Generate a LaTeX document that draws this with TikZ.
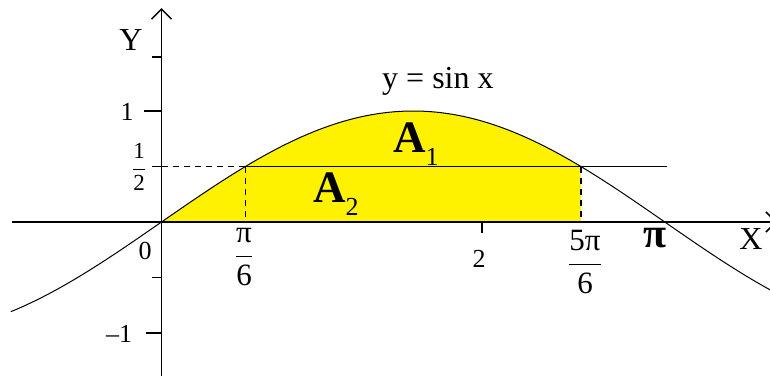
\documentclass[tikz,border=0pt]{standalone}
\RequirePackage{fix-cm}
\usepackage{fontspec}
\setmainfont{Liberation Serif}
\usetikzlibrary{arrows.meta}
\begin{document}
\begin{tikzpicture}[x=1pt,y=-1pt,
  axis/.style={line width=1.5pt,black},
  tickmark/.style={line width=1.5pt,black},
  curve/.style={line width=1pt,black},
  guide/.style={line width=1.5pt,black,dash pattern=on 6pt off 5pt},
  half/.style={line width=1.4pt,black},
  lbl/.style={inner sep=0pt,font=\fontsize{26}{30}\selectfont},
  axlbl/.style={inner sep=0pt,font=\fontsize{32}{36}\selectfont},
  frc/.style={inner sep=0pt,font=\fontsize{31}{36}\selectfont},
  frcs/.style={inner sep=0pt,font=\fontsize{23}{27}\selectfont},
  arealbl/.style={inner sep=0pt,anchor=base west,font=\fontsize{45}{50}\selectfont\bfseries},
  barb/.tip={Straight Barb[length=10pt,width=20pt,line width=1.5pt]}]
\useasboundingbox (0,0) rectangle (770,376);
\fill[white] (0,0) rectangle (770,376);
% filled region
\begin{scope}[shift={(161.5,222)},x=160.2pt,y=111pt]
  \fill[yellow] (0,0) -- plot[domain=0:{5*pi/6},samples=120] (\x,{sin(\x r)}) -- ({5*pi/6},0) -- cycle;
\end{scope}
% guide lines
\coordinate (hy) at (161.5,166.5);
\coordinate (p1) at (245.4,166.5);
\coordinate (p1b) at (245.4,222);
\coordinate (p5) at (580.9,166.5);
\coordinate (p5b) at (580.9,222);
\coordinate (hend) at (667,166.5);
\draw[guide] (hy) -- (p1);
\draw[guide] (p1) -- (p1b);
\draw[guide] (p5) -- (p5b);
\draw[half] (p1) -- (hend);
% axes
\coordinate (xs) at (12,222);
\coordinate (xe) at (777,222);
\coordinate (ys) at (161.5,376);
\coordinate (ye) at (161.5,8);
\draw[axis,-barb] (xs) -- (xe);
\draw[axis,-barb] (ys) -- (ye);
% ticks
\draw[tickmark] (152,57) -- (161.5,57);
\draw[tickmark] (144,111) -- (161.5,111);
\draw[tickmark] (152,166.5) -- (161.5,166.5);
\draw[tickmark] (152,277.5) -- (161.5,277.5);
\draw[tickmark] (146,333) -- (161.5,333);
\draw[tickmark] (482,222) -- (482,233);
% curve
\begin{scope}[shift={(161.5,222)},x=160.2pt,y=111pt]
  \draw[curve] plot[domain=-0.94:3.81,samples=200] (\x,{sin(\x r)});
\end{scope}
% labels
\node[axlbl] (ylab) at (131,40) {Y};
\node[axlbl] (xlab) at (751,239) {X};
\node[lbl] (zero) at (145,251) {0};
\node[lbl] (one) at (127,111.5) {1};
\node[lbl] (mone) at (119,334) {–1};
\node[lbl] (two) at (479,258.5) {2};
\node[frcs] (halflbl) at (139,167) {$\displaystyle\frac{\mbox{1}}{\mbox{2}}$};
\node[frc] (pisix) at (244,257) {$\displaystyle\frac{\mbox{π}}{\mbox{6}}$};
\node[frc] (fivepisix) at (585,262) {$\displaystyle\frac{\mbox{5π}}{\mbox{6}}$};
\node[inner sep=0pt,font=\fontsize{42}{46}\selectfont\bfseries] (pilbl) at (655,238) {π};
\node[inner sep=0pt,anchor=base west,font=\fontsize{32}{36}\selectfont] (eq) at (382,88) {y = sin x};
\node[arealbl] (aone) at (393,152) {A\raisebox{-13pt}{\fontsize{26}{30}\selectfont\mdseries 1}};
\node[arealbl] (atwo) at (313,202) {A\raisebox{-13pt}{\fontsize{26}{30}\selectfont\mdseries 2}};
\end{tikzpicture}
\end{document}
